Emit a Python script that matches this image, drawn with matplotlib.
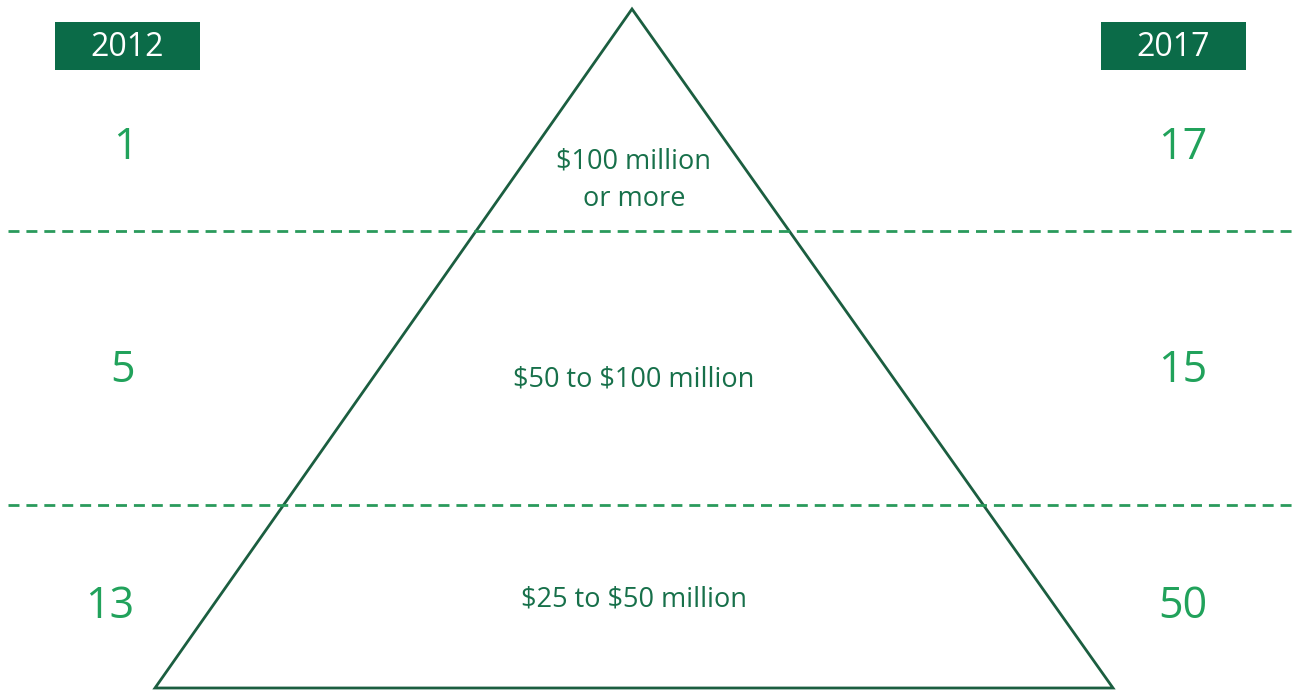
import matplotlib
matplotlib.use("Agg")
import matplotlib.pyplot as plt
from matplotlib.patches import Polygon, Rectangle

# Data
years = ["2012", "2017"]
tiers = ["$100 million\nor more", "$50 to $100 million", "$25 to $50 million"]
values_2012 = [1, 5, 13]
values_2017 = [17, 15, 50]

W, H = 1296, 692
fig = plt.figure(figsize=(W / 100, H / 100), dpi=100)
ax = fig.add_axes([0, 0, 1, 1])
ax.set_xlim(0, W)
ax.set_ylim(H, 0)
ax.axis("off")

plt.rcParams['font.family'] = ['Open Sans', 'DejaVu Sans']

dark = "#1b5e40"
box_col = "#0b6b48"
num_col = "#21a25b"
dash_col = "#2a9a5c"
lab_col = "#17704a"

# triangle
tri = Polygon([(632, 9), (155, 688), (1113, 688)], closed=True, fill=False,
              edgecolor=dark, linewidth=2.0, joinstyle="miter")
ax.add_patch(tri)

# dashed separators
for y in [231, 505]:
    ax.plot([8, W], [y, y], color=dash_col, linewidth=2.0,
            linestyle=(0, (3.95, 2.5)))

# header boxes
for yr, (x0, x1) in zip(years, [(55, 200), (1101, 1246)]):
    ax.add_patch(Rectangle((x0, 22), x1 - x0, 48, facecolor=box_col,
                           edgecolor="none"))
    ax.text((x0 + x1) / 2, 47, yr, color="white", fontsize=23,
            ha="center", va="center", parse_math=False)

# numbers
row_y = [148, 371, 607]
left_x = [125, 123, 110]
for v, x, y in zip(values_2012, left_x, row_y):
    ax.text(x, y, str(v), color=num_col, fontsize=31, ha="center",
            va="center", parse_math=False)
for v, y in zip(values_2017, row_y):
    ax.text(1183, y, str(v), color=num_col, fontsize=31, ha="center",
            va="center", parse_math=False)

# tier labels
label_y = [180, 379, 599]
for t, y in zip(tiers, label_y):
    ax.text(634, y, t, color=lab_col, fontsize=19.5, ha="center",
            va="center", linespacing=1.45, parse_math=False)

fig.savefig("out.png", dpi=100)
